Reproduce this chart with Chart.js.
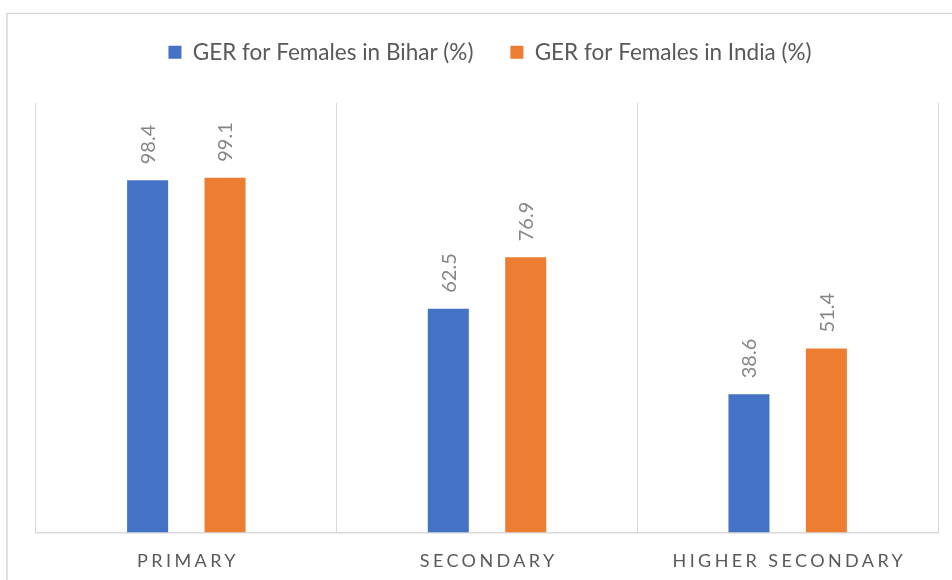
<!DOCTYPE html>
<html>
<head>
<meta charset="utf-8">
<script src="https://cdn.jsdelivr.net/npm/chart.js@4/dist/chart.umd.min.js"></script>
<style>
  html, body { margin: 0; padding: 0; background: #ffffff; }
  #wrap { position: relative; width: 952px; height: 580px; }
</style>
</head>
<body>
<div id="wrap"><canvas id="c" width="952" height="580"></canvas></div>
<script>
const categories = ["PRIMARY", "SECONDARY", "HIGHER SECONDARY"];
const seriesNames = ["GER for Females in Bihar (%)", "GER for Females in India (%)"];
const biharValues = [98.4, 62.5, 38.6];
const indiaValues = [99.1, 76.9, 51.4];
const seriesColors = ["#4472C4", "#ED7D31"];

const FONT = "Lato, 'Open Sans', sans-serif";
const PLOT_TOP = 103;

const framePlugin = {
  id: 'frame',
  beforeDraw(chart) {
    const ctx = chart.ctx;
    ctx.save();
    ctx.fillStyle = '#ffffff';
    ctx.fillRect(0, 0, chart.width, chart.height);
    ctx.strokeStyle = '#d9d9d9';
    ctx.lineWidth = 1.5;
    ctx.beginPath();
    ctx.moveTo(7, chart.height + 5);
    ctx.lineTo(7, 13.5);
    ctx.lineTo(chart.width + 5, 13.5);
    ctx.stroke();
    ctx.restore();
  }
};

const legendTweak = {
  id: 'legendTweak',
  beforeLayout(chart) {
    const lg = chart.legend;
    if (lg && !lg._tweaked) {
      lg._tweaked = true;
      const origFit = lg.fit;
      lg.fit = function () {
        origFit.call(this);
        const padTop = chart.options.layout.padding.top || 0;
        this.height = PLOT_TOP - padTop;
      };
      const origDraw = lg.draw;
      lg.draw = function () {
        const ctx = chart.ctx;
        ctx.save();
        ctx.translate(3, 1);
        origDraw.apply(this, arguments);
        ctx.restore();
      };
    }
  }
};

const valueLabels = {
  id: 'valueLabels',
  afterDatasetsDraw(chart) {
    const ctx = chart.ctx;
    ctx.save();
    ctx.fillStyle = '#858585';
    ctx.font = "20px " + FONT;
    ctx.textAlign = 'left';
    ctx.textBaseline = 'middle';
    chart.data.datasets.forEach((ds, di) => {
      const meta = chart.getDatasetMeta(di);
      meta.data.forEach((el, i) => {
        ctx.save();
        ctx.translate(el.x + 1, el.y - 16);
        ctx.rotate(-Math.PI / 2);
        ctx.fillText(ds.data[i].toFixed(1), 0, 0);
        ctx.restore();
      });
    });
    ctx.restore();
  }
};

const spacedXLabels = {
  id: 'spacedXLabels',
  afterDraw(chart) {
    const ctx = chart.ctx;
    const xs = chart.scales.x;
    ctx.save();
    ctx.fillStyle = '#595959';
    ctx.font = "18px " + FONT;
    ctx.letterSpacing = '3.4px';
    ctx.textAlign = 'center';
    ctx.textBaseline = 'middle';
    categories.forEach((c, i) => {
      ctx.fillText(c, xs.getPixelForValue(i) + 1.7, 561);
    });
    ctx.restore();
  }
};

new Chart(document.getElementById('c'), {
  type: 'bar',
  data: {
    labels: categories,
    datasets: [
      { label: seriesNames[0], data: biharValues, backgroundColor: seriesColors[0],
        categoryPercentage: 0.515, barPercentage: 0.53 },
      { label: seriesNames[1], data: indiaValues, backgroundColor: seriesColors[1],
        categoryPercentage: 0.515, barPercentage: 0.53 }
    ]
  },
  options: {
    responsive: false,
    animation: false,
    devicePixelRatio: 1,
    layout: { padding: { top: 3, left: 36, right: 14, bottom: 26 } },
    plugins: {
      legend: {
        display: true,
        position: 'top',
        labels: {
          boxWidth: 13,
          boxHeight: 13,
          padding: 37,
          color: '#595959',
          font: { family: FONT, size: 22.5 }
        }
      },
      tooltip: { enabled: false }
    },
    scales: {
      x: {
        grid: { display: true, offset: true, color: '#d9d9d9', lineWidth: 1, drawTicks: false },
        border: { display: true, color: '#d9d9d9', width: 1.5 },
        ticks: { color: 'rgba(0,0,0,0)', padding: 0, font: { family: FONT, size: 18 } }
      },
      y: {
        display: false,
        min: 0,
        max: 120
      }
    }
  },
  plugins: [framePlugin, legendTweak, valueLabels, spacedXLabels]
});
</script>
</body>
</html>
